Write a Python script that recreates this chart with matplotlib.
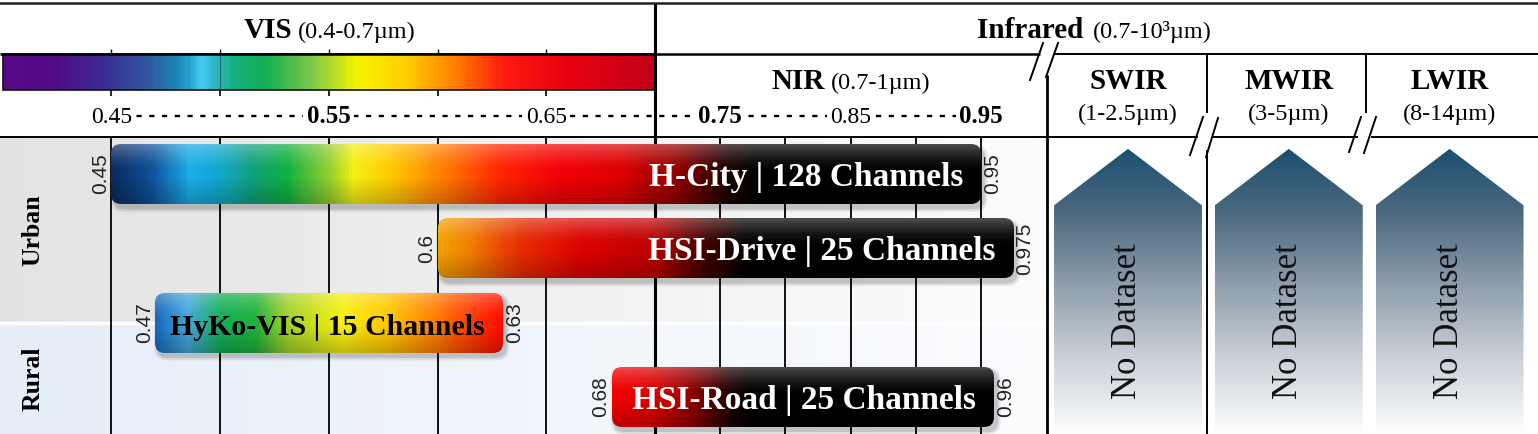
import numpy as np
import matplotlib.pyplot as plt
from matplotlib.colors import LinearSegmentedColormap, to_rgb
from matplotlib.patches import FancyBboxPatch, Polygon, Rectangle
from matplotlib.transforms import IdentityTransform, blended_transform_factory

W, H = 1538, 434
SERIF = 'Liberation Serif'
SANS = 'Liberation Sans'

# ---- data ----
datasets = ['H-City', 'HSI-Drive', 'HyKo-VIS', 'HSI-Road']
channels = [128, 25, 15, 25]
band_start = [0.45, 0.6, 0.47, 0.68]
band_end = [0.95, 0.975, 0.63, 0.96]

scenes = ['Urban', 'Rural']
scene_span = [(0, 2.5), (2.5, 4)]          # in dataset rows

vis_ticks = [0.45, 0.5, 0.55, 0.6, 0.65]
nir_ticks = [0.75, 0.8, 0.85, 0.9, 0.95]
label_ticks = [0.45, 0.55, 0.65, 0.75, 0.85, 0.95]
bold_ticks = [0.55, 0.75, 0.95]

ir_bands = ['SWIR', 'MWIR', 'LWIR']
ir_ranges = ['(1-2.5µm)', '(3-5µm)', '(8-14µm)']

# ---- styles ----
spectrum_stops = [(0.400, '#560a88'), (0.422, '#520a85'), (0.445, '#3c2a92'),
                  (0.468, '#2e5aa0'), (0.478, '#1a7fb0'), (0.484, '#2098c8'),
                  (0.491, '#44c8f2'), (0.497, '#30b8c8'), (0.506, '#18b080'),
                  (0.521, '#12ae50'), (0.542, '#7cc84c'), (0.563, '#f6f400'),
                  (0.585, '#ffd000'), (0.608, '#ff8000'), (0.631, '#ff1a10'),
                  (0.660, '#e80010'), (0.700, '#c00018')]

bar_grads = [
    [(0, '#0a2a5e'), (.045, '#0d4f98'), (.091, '#1aaee6'), (.115, '#12a8d8'),
     (.16, '#10a07a'), (.20, '#10b040'), (.251, '#98cf2c'), (.278, '#f4f012'),
     (.32, '#ffcc00'), (.36, '#ff9a00'), (.40, '#ff6000'), (.447, '#ff2400'),
     (.516, '#f20006'), (.590, '#dc0000'), (.653, '#8c0000'), (.711, '#180000'),
     (.745, '#000000'), (1, '#000000')],
    [(0, '#f2a200'), (.057, '#ef7c00'), (.144, '#e52a00'), (.248, '#dd0000'),
     (.37, '#bf0000'), (.457, '#4a0000'), (.535, '#000000'), (1, '#000000')],
    [(0, '#1668bb'), (.095, '#45a6dd'), (.19, '#12ae55'), (.29, '#20b23a'),
     (.385, '#a6d22a'), (.54, '#f8f010'), (.675, '#ffc400'), (.80, '#ff8200'),
     (.915, '#ff3800'), (1, '#ff0c00')],
    [(0, '#f00000'), (.10, '#e00000'), (.206, '#900000'), (.31, '#200000'),
     (.363, '#000000'), (1, '#000000')],
]
text_colors = ['white', 'white', 'black', 'white']
text_sizes = [24, 24, 21.5, 24]

fig = plt.figure(figsize=(W / 100, H / 100), dpi=100)


def px_axes(x0, y0, x1, y1):
    return fig.add_axes([x0 / W, 1 - y1 / H, (x1 - x0) / W, (y1 - y0) / H])


# broken wavelength axis: VIS is stretched more than NIR
VIS_PX, NIR_PX = 2175.0, 1304.0


def fwd(w):
    w = np.asarray(w, dtype=float)
    return np.where(w <= 0.7, (w - 0.7) * VIS_PX, (w - 0.7) * NIR_PX)


def inv(p):
    p = np.asarray(p, dtype=float)
    return np.where(p <= 0, 0.7 + p / VIS_PX, 0.7 + p / NIR_PX)


X_LEFT, X_RIGHT = 0.7 - 655 / VIS_PX, 1.0
x_right_px = 655 + 0.3 * NIR_PX

ax_hdr = px_axes(0, 0, x_right_px, 137)
ax_bars = px_axes(0, 137, x_right_px, H)
for ax in (ax_hdr, ax_bars):
    ax.set_xscale('function', functions=(fwd, inv))
    ax.set_xlim(X_LEFT, X_RIGHT)
    ax.axis('off')
ax_hdr.set_ylim(137, 0)
ax_bars.set_ylim(4, 0)

# scene backgrounds
xe_bg = inv(np.linspace(fwd(X_LEFT), fwd(X_RIGHT), 201))
t_bg = np.linspace(0, 1, 200)[:, None]
for (r0, r1), (c0, c1) in zip(scene_span, [('#e2e2e2', '#fcfcfc'), ('#e5edf7', '#fbfcfe')]):
    rgb = (1 - t_bg) * np.array(to_rgb(c0)) + t_bg * np.array(to_rgb(c1))
    ax_bars.pcolormesh(xe_bg, [r0, r1], rgb[None, :, :], shading='flat',
                       antialiased=False, zorder=0)
ax_bars.axhline(2.5, color='white', lw=2.5, zorder=1)

# grid
ax_bars.vlines(vis_ticks + nir_ticks, 0, 4, color='black', lw=1.3, zorder=2)
ax_bars.vlines(0.7, 0, 4, color='black', lw=2.2, zorder=2)

trans = blended_transform_factory(ax_bars.transAxes, ax_bars.transData)
for sc, (r0, r1) in zip(scenes, scene_span):
    ax_bars.text(33 / x_right_px, (r0 + r1) / 2, sc, transform=trans, rotation=90,
                 ha='center', va='center', family=SERIF, fontweight='bold', fontsize=18.5)

# dataset bars
bar_h = 0.81
nx, ny = 260, 26
v = (np.arange(ny) + 0.5) / ny
hl = np.clip(1 - v / 0.45, 0, 1) ** 1.5 * 0.3
shade = 1 - 0.22 * np.clip((v - 0.55) / 0.45, 0, 1)
for i, (name, ch, s, e) in enumerate(zip(datasets, channels, band_start, band_end)):
    yc = i + 0.5
    y0, y1 = yc - bar_h / 2, yc + bar_h / 2
    (dx0, dy0), (dx1, dy1) = ax_bars.transData.transform([(s, y1), (e, y0)])
    bw, bh = dx1 - dx0, dy1 - dy0

    for grow, a in [(4, 0.05), (2.5, 0.07), (1, 0.1)]:
        sh = FancyBboxPatch((dx0 + 3 - grow, dy0 - 4 - grow), bw + 2 * grow, bh + 2 * grow,
                            boxstyle=f'round,pad=0,rounding_size={10 + grow}',
                            transform=IdentityTransform(), facecolor='black',
                            edgecolor='none', alpha=a, zorder=3)
        ax_bars.add_patch(sh)

    box = FancyBboxPatch((dx0, dy0), bw, bh, boxstyle='round,pad=0,rounding_size=10',
                         transform=IdentityTransform(), facecolor='none', edgecolor='none')
    cmap = LinearSegmentedColormap.from_list(f'bar{i}', bar_grads[i])
    t = np.linspace(0, 1, nx + 1)
    xe = inv(fwd(s) + t * (fwd(e) - fwd(s)))
    ye = np.linspace(y0, y1, ny + 1)
    base = cmap((t[:-1] + t[1:]) / 2)[:, :3]
    rgb = base[None, :, :] * shade[:, None, None] * (1 - hl[:, None, None]) + hl[:, None, None]
    mesh = ax_bars.pcolormesh(xe, ye, np.clip(rgb, 0, 1), shading='flat',
                              antialiased=False, zorder=4)
    mesh.set_clip_path(box)

    ax_bars.annotate(f'{name} | {ch} Channels', (e, yc), xytext=(-18, -12),
                     textcoords='offset pixels', ha='right', va='baseline',
                     color=text_colors[i], fontsize=text_sizes[i], fontweight='bold',
                     family=SERIF, zorder=6)
    ax_bars.annotate(f'{s:g}', (s, yc), xytext=(-1, 0), textcoords='offset pixels',
                     rotation=90, ha='right', va='center', fontsize=15, family=SANS,
                     color='#222222', zorder=6)
    ax_bars.annotate(f'{e:g}', (e, yc), xytext=(2, 0), textcoords='offset pixels',
                     rotation=90, ha='left', va='center', fontsize=15, family=SANS,
                     color='#222222', zorder=6)

# header: spectrum bar and wavelength scale
spec = LinearSegmentedColormap.from_list(
    'spec', [(round((w - 0.4) / 0.3, 6), c) for w, c in spectrum_stops])
xs = np.linspace(0.4, 0.7, 301)
ax_hdr.pcolormesh(xs, [54, 90], ((xs[:-1] + xs[1:]) / 2)[None, :], cmap=spec,
                  vmin=0.4, vmax=0.7, shading='flat', zorder=1)
ax_hdr.add_patch(Rectangle((0.4, 54), 0.3, 36, fill=False, edgecolor='#111111', lw=1.2, zorder=2))
ax_hdr.vlines(0.5, 54, 90, color='#0d4a55', lw=0.8, alpha=0.7, zorder=2)
ax_hdr.vlines(vis_ticks, 49, 54, color='black', lw=1)
ax_hdr.vlines(vis_ticks, 90, 96, color='black', lw=1.2)
ax_hdr.vlines(0.7, 3, 137, color='black', lw=2.2, zorder=3)

ax_hdr.plot([label_ticks[0], label_ticks[-1]], [115.5, 115.5], color='black', lw=1.7,
            ls=(0, (2.2, 3.2)), zorder=1)
for tk in label_ticks:
    b = tk in bold_ticks
    ax_hdr.text(tk, 123, f'{tk:.2f}', ha='center', va='baseline',
                fontsize=18 if b else 17, fontweight='bold' if b else 'normal',
                family=SERIF, zorder=2,
                bbox=dict(facecolor='white', edgecolor='none', pad=2.5))

# infrared bands without datasets
ax_ir = px_axes(1046, 137, W, H)
ax_ir.axis('off')
nd_cmap = LinearSegmentedColormap.from_list(
    'nd', [(0, '#ffffff'), (0.08, '#eef0f3'), (0.28, '#c7ced5'), (0.52, '#8f9eac'),
           (0.77, '#4d6a80'), (1, '#1a4f6f')])
for i, band in enumerate(ir_bands):
    poly = Polygon([(i - 0.46, 0), (i - 0.46, 0.77), (i, 0.96), (i + 0.46, 0.77),
                    (i + 0.46, 0)], closed=True, facecolor='none', edgecolor='none')
    ax_ir.add_patch(poly)
    im = ax_ir.imshow(np.linspace(0, 1, 256)[:, None], cmap=nd_cmap, origin='lower',
                      extent=(i - 0.46, i + 0.46, 0, 0.96), aspect='auto', zorder=2)
    im.set_clip_path(poly)
    ax_ir.text(i, 0.38, 'No Dataset', rotation=90, ha='center', va='center',
               family=SERIF, fontsize=25, color='#111111', zorder=3)
ax_ir.set_xlim(-0.51, 2.55)
ax_ir.set_ylim(0, 1)

# frame, section titles and axis breaks
ax_frame = px_axes(0, 0, W, H)
ax_frame.set_xlim(0, W)
ax_frame.set_ylim(H, 0)
ax_frame.axis('off')
ax_frame.set_zorder(10)
lk = dict(color='black', lw=1.4, solid_capstyle='butt')
ax_frame.plot([0, W], [3, 3], color='#222222', lw=1.8)
ax_frame.plot([0, 1040], [54, 54], color='black', lw=1.8, solid_capstyle='butt')
ax_frame.plot([1055, W], [54, 54], **lk)
ax_frame.plot([0, 1198], [137, 137], **lk)
ax_frame.plot([1212, 1358], [137, 137], **lk)
ax_frame.plot([1371, W], [137, 137], **lk)
ax_frame.plot([1047, 1047], [75, H], color='black', lw=2, solid_capstyle='butt')
ax_frame.plot([1207, 1207], [54, 113], **lk)
ax_frame.plot([1207, 1207], [150, H], **lk)
ax_frame.plot([1366, 1366], [54, 113], **lk)
for xa, ya, xb, yb in [(1030, 80, 1043, 43), (1046, 77, 1058, 43),
                       (1190, 155, 1203, 117), (1206, 157, 1218, 118),
                       (1349, 152, 1361, 117), (1364, 153, 1376, 117)]:
    ax_frame.plot([xa, xb], [ya, yb], color='black', lw=1.4)

tb = dict(family=SERIF, fontweight='bold', fontsize=21, va='baseline')
tr = dict(family=SERIF, fontsize=17.5, va='baseline')
ax_frame.text(292, 38, 'VIS', ha='right', **tb)
ax_frame.text(298, 38, '(0.4-0.7µm)', ha='left', **tr)
ax_frame.text(1083, 38, 'Infrared', ha='right', **tb)
ax_frame.text(1093, 38, '(0.7-10³µm)', ha='left', **tr)
ax_frame.text(825, 89, 'NIR', ha='right', **tb)
ax_frame.text(831, 89, '(0.7-1µm)', ha='left', **tr)
ir_trans = blended_transform_factory(ax_ir.transData, ax_frame.transData)
for i, (band, rng) in enumerate(zip(ir_bands, ir_ranges)):
    ax_frame.text(i, 89, band, ha='center', transform=ir_trans, **tb)
    ax_frame.text(i, 120, rng, ha='center', transform=ir_trans, **tr)

fig.savefig('out.png', dpi=100)
